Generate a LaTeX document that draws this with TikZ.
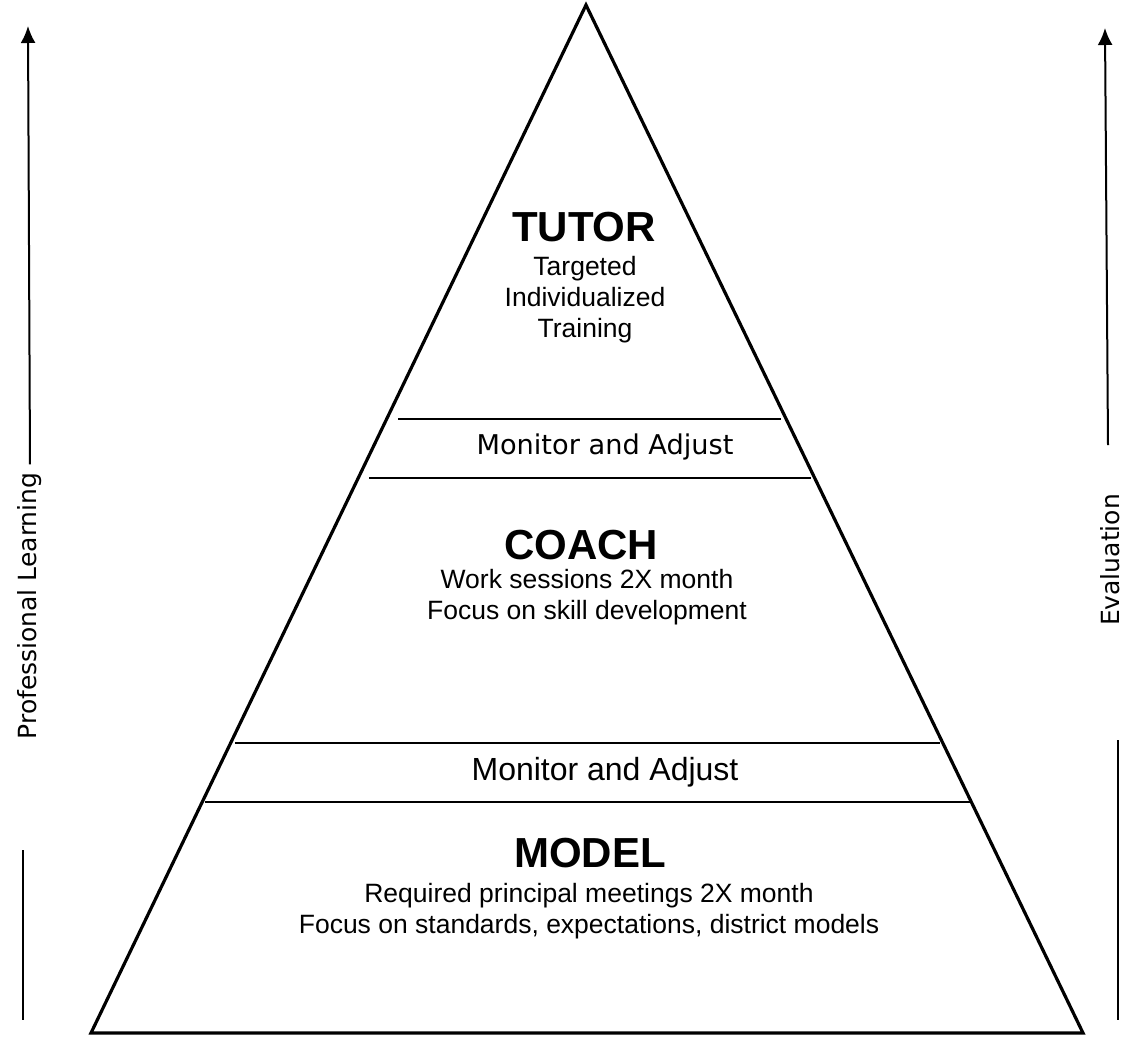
\documentclass[tikz,border=0pt]{standalone}
\usepackage{fontspec}
\setmainfont{Liberation Sans}
\newfontfamily\verd{DejaVu Sans}
\usetikzlibrary{arrows.meta}
\begin{document}
\begin{tikzpicture}[x=1pt,y=-1pt]
		\tikzstyle{every node}=[inner sep=0pt,align=center];
		\tikzstyle{head}=[font=\fontsize{42}{48}\selectfont\bfseries];
		\tikzstyle{body}=[font=\fontsize{26.5}{31}\selectfont];
		\tikzstyle{band}=[font=\verd\fontsize{27.2}{31}\selectfont];
		\tikzstyle{side}=[font=\verd\fontsize{25}{30}\selectfont,rotate=90];
		\useasboundingbox (0,0) rectangle (1128,1037);
		% pyramid
		\coordinate (top) at (586,5);
		\coordinate (bl) at (91,1033);
		\coordinate (br) at (1083,1033);
		\draw[line width=3.2pt,line join=miter] (top) -- (bl) -- (br) -- cycle;
		% bands
		\coordinate (a1) at (398,419);
		\coordinate (a2) at (781,419);
		\coordinate (b1) at (369,478);
		\coordinate (b2) at (811,478);
		\coordinate (c1) at (235,743);
		\coordinate (c2) at (940,743);
		\coordinate (d1) at (205,802);
		\coordinate (d2) at (970,802);
		\draw[line width=2pt] (a1) -- (a2)
		(b1) -- (b2)
		(c1) -- (c2)
		(d1) -- (d2);
		% texts
		\node[head] (tutor) at (584,227) {TUTOR};
		\node[body] (tutortxt) at (585,300) {Targeted\\Individualized\\Training};
		\node[band] (mon1) at (605,447) {Monitor and Adjust};
		\node[head] (coach) at (581,545) {COACH};
		\node[body] (coachtxt) at (587,597) {Work sessions 2X month\\Focus on skill development};
		\node[body,font=\fontsize{32}{36}\selectfont] (mon2) at (605,772) {Monitor and Adjust};
		\node[head] (model) at (590,853) {MODEL};
		\node[body] (modeltxt) at (589,911) {Required principal meetings 2X month\\Focus on standards, expectations, district models};
		% side arrows
		\node[side] (pl) at (30,606) {Professional Learning};
		\node[side] (ev) at (1110,560) {Evaluation};
		\coordinate (pltop) at (28,26);
		\coordinate (plbot) at (23,1020);
		\coordinate (evtop) at (1105,28);
		\coordinate (evbot) at (1118,1020);
		\draw[line width=2pt,-{Latex[length=17pt,width=15pt]}] (pl.east) ++(0,-8) -- (pltop);
		\draw[line width=2pt] (23,850) -- (plbot);
		\draw[line width=2pt,-{Latex[length=17pt,width=15pt]}] (1108,445) -- (evtop);
		\draw[line width=2pt] (1118,740) -- (evbot);
\end{tikzpicture}
\end{document}
